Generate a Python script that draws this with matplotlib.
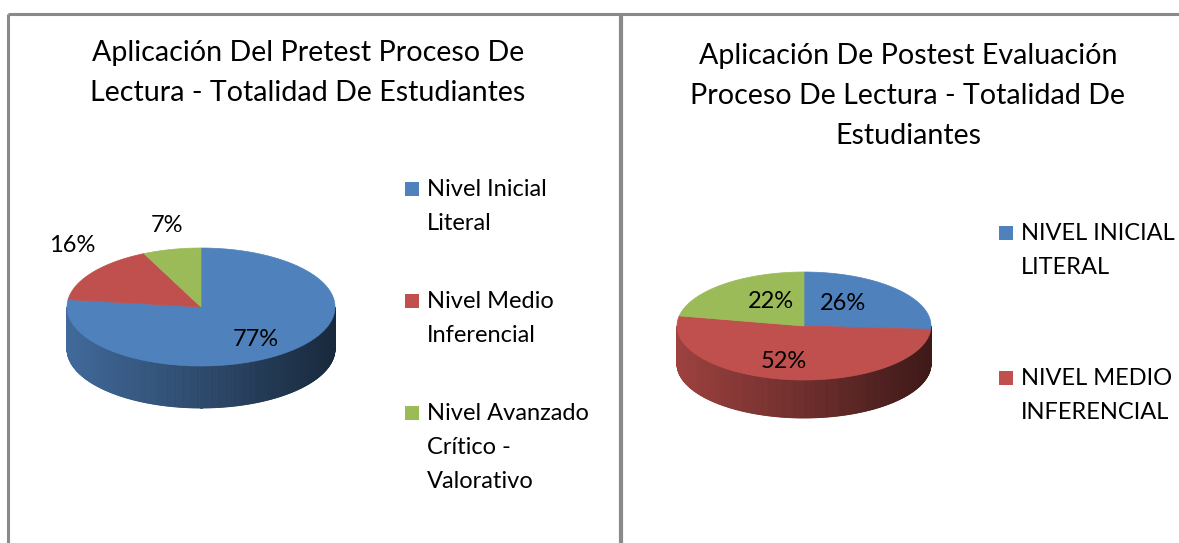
import numpy as np
import matplotlib.pyplot as plt
from matplotlib.patches import Polygon, Rectangle
from matplotlib.colors import to_rgb

# data
pre_labels = ["Nivel Inicial\nLiteral", "Nivel Medio\nInferencial", "Nivel Avanzado\nCrítico -\nValorativo"]
pre_values = [77, 16, 7]
post_labels = ["NIVEL INICIAL\nLITERAL", "NIVEL MEDIO\nINFERENCIAL"]
post_values = [26, 52, 22]
colors = ["#4F81BD", "#C0504D", "#9BBB59"]

pre_title = "Aplicación Del Pretest Proceso De\nLectura - Totalidad De Estudiantes"
post_title = "Aplicación De Postest Evaluación\nProceso De Lectura - Totalidad De\nEstudiantes"

plt.rcParams['font.family'] = ['Lato', 'DejaVu Sans']

W, H = 1179, 543
fig = plt.figure(figsize=(W / 100, H / 100), dpi=100)
ax = fig.add_axes([0, 0, 1, 1])
ax.set_xlim(0, W)
ax.set_ylim(H, 0)
ax.axis('off')


def pt(cx, cy, rx, ry, a, dz=0):
    r = np.radians(a)
    return cx + rx * np.cos(r), cy - ry * np.sin(r) + dz


def pie3d(values, cx, cy, rx, ry, depth, label_pos):
    total = float(sum(values))
    start = 90.0
    spans = []
    for v in values:
        sweep = 360.0 * v / total
        spans.append((start - sweep, start))
        start -= sweep
    # side wall (front half, 180..360 deg)
    for (a0, a1), c in zip(spans, colors):
        base = np.array(to_rgb(c))
        for off in (0, 360, -360):
            lo = max(a0 + off, 180)
            hi = min(a1 + off, 360)
            if hi <= lo:
                continue
            angs = np.linspace(lo, hi, int((hi - lo) * 2) + 2)
            for s0, s1 in zip(angs[:-1], angs[1:]):
                xm = np.cos(np.radians((s0 + s1) / 2))
                f = 0.82 - 0.5 * (xm + 1) / 2
                col = np.clip(base * f, 0, 1)
                p0 = pt(cx, cy, rx, ry, s0)
                p1 = pt(cx, cy, rx, ry, s1)
                q1 = pt(cx, cy, rx, ry, s1, depth)
                q0 = pt(cx, cy, rx, ry, s0, depth)
                ax.add_patch(Polygon([p0, p1, q1, q0], closed=True,
                                     facecolor=col, edgecolor=col, lw=0.6))
    # top
    for (a0, a1), c in zip(spans, colors):
        angs = np.linspace(a0, a1, 200)
        xs = cx + rx * np.cos(np.radians(angs))
        ys = cy - ry * np.sin(np.radians(angs))
        verts = [(cx, cy)] + list(zip(xs, ys))
        ax.add_patch(Polygon(verts, closed=True, facecolor=c, edgecolor=c, lw=0.5))
    for v, (x, y) in zip(values, label_pos):
        ax.text(x, y, f"{v}%", ha='center', va='center', fontsize=17, color='black')


def legend(labels, x, y, step):
    for i, (lab, c) in enumerate(zip(labels, colors)):
        yy = y + i * step
        ax.add_patch(Rectangle((x, yy - 7), 14, 14, facecolor=c, edgecolor='none'))
        ax.text(x + 22, yy - 10, lab, ha='left', va='top', fontsize=17,
                linespacing=1.75, color='black')


# borders
ax.plot([8, W], [14, 14], color='#8a8a8a', lw=2.2, solid_capstyle='butt')
ax.plot([8, 8], [14, H], color='#8a8a8a', lw=2.2, solid_capstyle='butt')
ax.plot([620.5, 620.5], [14, H], color='#8a8a8a', lw=3, solid_capstyle='butt')

# left chart
ax.text(308, 73, pre_title, ha='center', va='center', fontsize=20.6, linespacing=1.65)
pie3d(pre_values, 201, 307, 134, 59, 42,
      [(256, 340), (72, 245), (167, 225)])
legend(pre_labels, 405, 189, 112)

# right chart
ax.text(908, 96, post_title, ha='center', va='center', fontsize=20.6, linespacing=1.65)
pie3d(post_values, 804, 326, 127, 54, 38,
      [(843, 303), (784, 362), (771, 301)])
legend(post_labels, 999, 233, 145)

fig.savefig("out.png", dpi=100)
